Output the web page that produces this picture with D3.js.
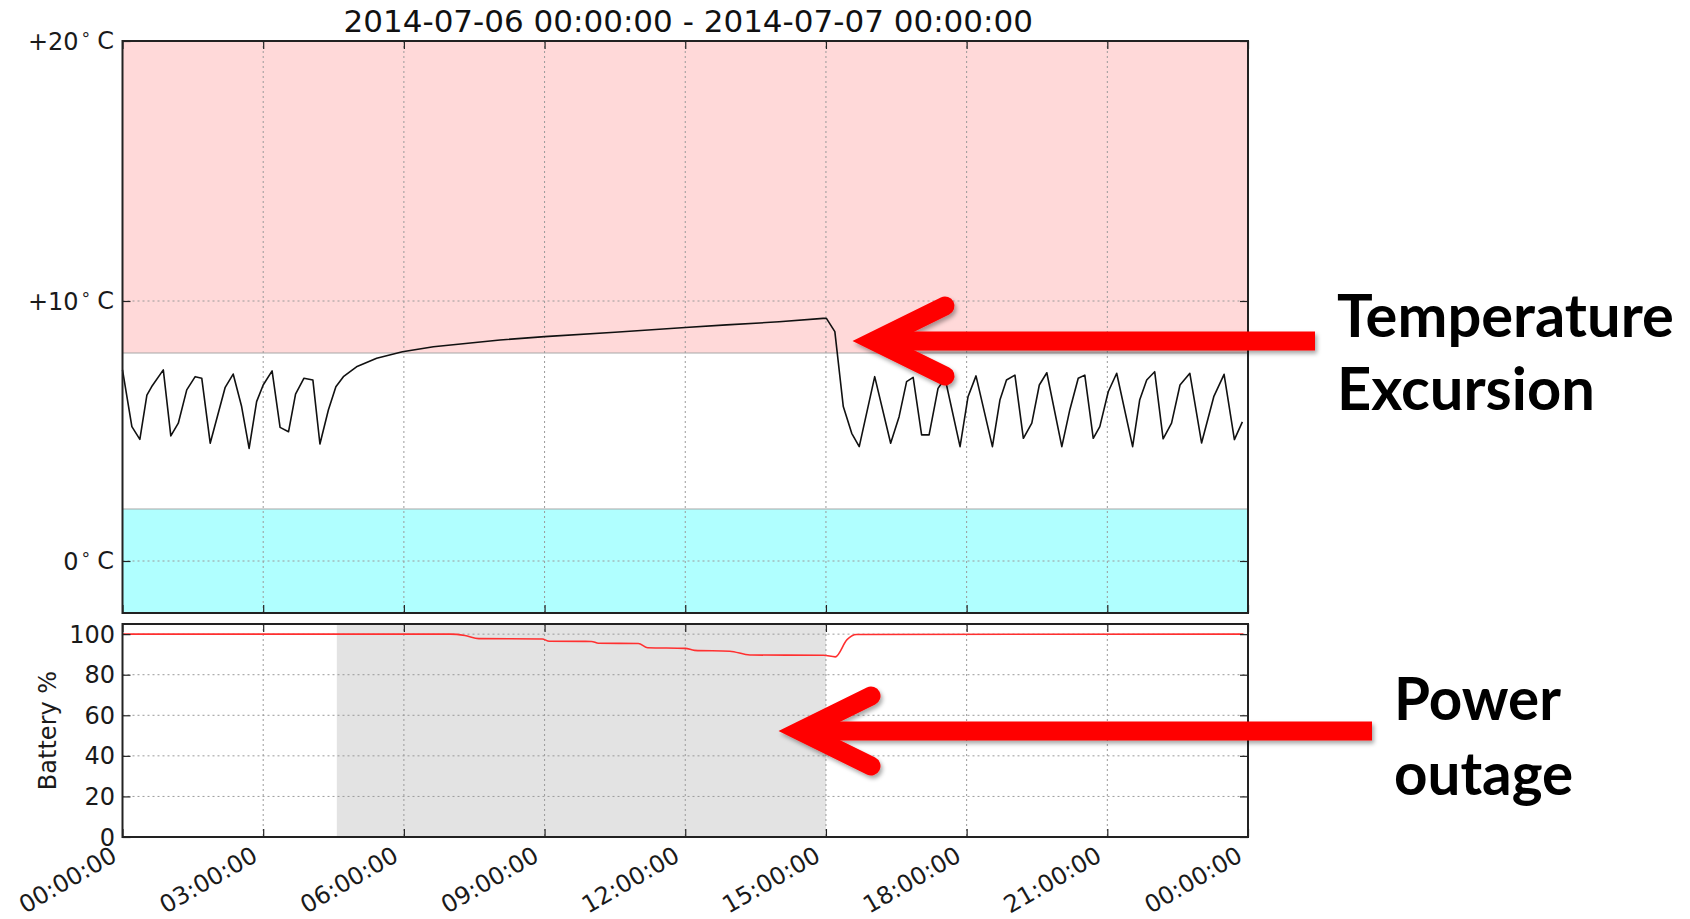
<!DOCTYPE html>
<html lang="en">
<head>
<meta charset="utf-8" />
<title>Temperature excursion and power outage</title>
<style>
  body { margin: 0; background: #fff; }
  svg { display: block; font-family: 'DejaVu Sans', sans-serif; }
  .grid line { stroke: #9a9a9a; stroke-width: 1; stroke-dasharray: 2,3; }
  .tick-label { font-size: 24px; fill: #1a1a1a; }
  .frame { fill: none; stroke: #222; stroke-width: 2; }
  .note { font-family: Lato, 'Open Sans', sans-serif; font-weight: 700; fill: #000; }
</style>
</head>
<body>
<script src="https://d3js.org/d3.v7.min.js"></script>
<script>
// ---- data ----
const title = "2014-07-06 00:00:00 - 2014-07-07 00:00:00";
const xTickHours = [0, 3, 6, 9, 12, 15, 18, 21, 24];
const xTickLabels = ["00:00:00", "03:00:00", "06:00:00", "09:00:00", "12:00:00",
                     "15:00:00", "18:00:00", "21:00:00", "00:00:00"];
const tempTicks = [0, 10, 20];
const tempTickLabels = ["0", "+10", "+20"];
const batteryTicks = [0, 20, 40, 60, 80, 100];

const highLimit = 8;    // pink band above
const lowLimit = 2;     // cyan band below
const outage = [4.57, 15.0];   // grey band in battery panel (hours)

const tempHours = [
  0.00, 0.20, 0.37, 0.52, 0.62, 0.87, 1.03, 1.19, 1.37, 1.55, 1.69, 1.87, 2.19, 2.36,
  2.54, 2.70, 2.86, 3.00, 3.19, 3.36, 3.54, 3.69, 3.87, 4.06, 4.21, 4.39, 4.55, 4.71,
  4.99, 5.42, 5.97, 6.63, 8.05, 9.00, 10.50, 12.00, 12.88, 14.00, 14.94, 15.01, 15.19,
  15.37, 15.55, 15.71, 16.04, 16.38, 16.56, 16.72, 16.86, 17.04, 17.20, 17.39, 17.54,
  17.86, 18.03, 18.20, 18.55, 18.71, 18.85, 19.03, 19.21, 19.39, 19.55, 19.71, 20.03,
  20.20, 20.38, 20.52, 20.70, 20.84, 21.02, 21.20, 21.54, 21.69, 21.84, 22.01, 22.19,
  22.37, 22.55, 22.76, 23.01, 23.27, 23.49, 23.71, 23.88
];
const tempValues = [
  7.35, 5.17, 4.68, 6.38, 6.70, 7.35, 4.81, 5.30, 6.58, 7.09, 7.03, 4.53, 6.68, 7.19,
  5.94, 4.33, 6.13, 6.77, 7.31, 5.14, 4.97, 6.42, 7.03, 6.96, 4.50, 5.81, 6.70, 7.09,
  7.47, 7.80, 8.05, 8.24, 8.50, 8.63, 8.80, 8.98, 9.08, 9.20, 9.33, 9.33, 8.82,
  5.94, 4.91, 4.40, 7.09, 4.53, 5.55, 6.90, 7.06, 4.85, 4.85, 6.64, 7.03,
  4.40, 6.32, 7.12, 4.40, 6.19, 6.96, 7.15, 4.72, 5.30, 6.77, 7.24, 4.40,
  5.81, 7.03, 7.15, 4.72, 5.17, 6.51, 7.22, 4.40, 6.19, 6.96, 7.28, 4.70,
  5.30, 6.77, 7.22, 4.54, 6.32, 7.18, 4.67, 5.35
];

const batteryHours = [0, 7.0, 7.3, 7.6, 8.95, 9.1, 10.0, 10.15, 11.0, 11.2, 12.0, 12.2,
                      12.95, 13.38, 14.95, 15.2, 15.45, 15.65, 23.9];
const batteryValues = [100, 100, 99.3, 97.8, 97.6, 96.5, 96.4, 95.5, 95.4, 93.3, 93.0, 92.0,
                       91.6, 89.7, 89.6, 88.8, 97.3, 99.8, 100];

// ---- layout ----
const W = 1690, H = 919;
const left = 122.5, right = 1248;
const topPanel = { top: 41, bottom: 613 };
const batPanel = { top: 624, bottom: 837 };

const svg = d3.select("body").append("svg").attr("width", W).attr("height", H);

const defs = svg.append("defs");
const shadow = defs.append("filter").attr("id", "shadow")
  .attr("x", "-20%").attr("y", "-50%").attr("width", "140%").attr("height", "200%");
shadow.append("feDropShadow").attr("dx", 2).attr("dy", 3).attr("stdDeviation", 2)
  .attr("flood-color", "#000").attr("flood-opacity", 0.35);

const x = d3.scaleLinear().domain([0, 24]).range([left, right]);
const yT = d3.scaleLinear().domain([-2, 20]).range([topPanel.bottom, topPanel.top]);
const yB = d3.scaleLinear().domain([0, 105]).range([batPanel.bottom, batPanel.top]);

// ---- top panel: bands ----
svg.append("rect")
  .attr("x", x(0)).attr("width", x(24) - x(0))
  .attr("y", yT(20)).attr("height", yT(highLimit) - yT(20))
  .attr("fill", "#ffd9d9");
svg.append("rect")
  .attr("x", x(0)).attr("width", x(24) - x(0))
  .attr("y", yT(lowLimit)).attr("height", yT(-2) - yT(lowLimit))
  .attr("fill", "#b0ffff");
[highLimit, lowLimit].forEach(v => {
  svg.append("line")
    .attr("x1", x(0)).attr("x2", x(24)).attr("y1", yT(v)).attr("y2", yT(v))
    .attr("stroke", "#a8a8a8").attr("stroke-width", 1.2);
});

// grid, top panel
const gT = svg.append("g").attr("class", "grid");
gT.selectAll("line.v").data(xTickHours.slice(1, -1)).join("line")
  .attr("x1", d => x(d)).attr("x2", d => x(d))
  .attr("y1", topPanel.top).attr("y2", topPanel.bottom);
gT.selectAll("line.h").data(tempTicks).join("line")
  .attr("x1", left).attr("x2", right)
  .attr("y1", d => yT(d)).attr("y2", d => yT(d));

// temperature line
const tempData = tempHours.map((h, i) => [h, tempValues[i]]);
svg.append("path").datum(tempData)
  .attr("fill", "none").attr("stroke", "#111").attr("stroke-width", 1.6)
  .attr("stroke-linejoin", "round")
  .attr("d", d3.line().x(d => x(d[0])).y(d => yT(d[1])));

// ---- battery panel ----
svg.append("rect")
  .attr("x", x(outage[0])).attr("width", x(outage[1]) - x(outage[0]))
  .attr("y", batPanel.top).attr("height", batPanel.bottom - batPanel.top)
  .attr("fill", "#e3e3e3");

const gB = svg.append("g").attr("class", "grid");
gB.selectAll("line.v").data(xTickHours.slice(1, -1)).join("line")
  .attr("x1", d => x(d)).attr("x2", d => x(d))
  .attr("y1", batPanel.top).attr("y2", batPanel.bottom);
gB.selectAll("line.h").data(batteryTicks.slice(1)).join("line")
  .attr("x1", left).attr("x2", right)
  .attr("y1", d => yB(d)).attr("y2", d => yB(d));

const batData = batteryHours.map((h, i) => [h, batteryValues[i]]);
svg.append("path").datum(batData)
  .attr("fill", "none").attr("stroke", "#ff3030").attr("stroke-width", 1.6)
  .attr("d", d3.line().curve(d3.curveMonotoneX).x(d => x(d[0])).y(d => yB(d[1])));

// ---- axes (inward ticks on all sides) ----
function frame(p, yScale, yTicks) {
  const h = p.bottom - p.top;
  svg.append("g").attr("transform", `translate(0,${p.bottom})`)
    .call(d3.axisBottom(x).tickValues(xTickHours).tickSize(-8).tickFormat(""))
    .call(g => g.select(".domain").remove());
  svg.append("g").attr("transform", `translate(0,${p.top})`)
    .call(d3.axisTop(x).tickValues(xTickHours).tickSize(-8).tickFormat(""))
    .call(g => g.select(".domain").remove());
  svg.append("g").attr("transform", `translate(${left},0)`)
    .call(d3.axisLeft(yScale).tickValues(yTicks).tickSize(-8).tickFormat(""))
    .call(g => g.select(".domain").remove());
  svg.append("g").attr("transform", `translate(${right},0)`)
    .call(d3.axisRight(yScale).tickValues(yTicks).tickSize(-8).tickFormat(""))
    .call(g => g.select(".domain").remove());
  svg.selectAll(".tick line").attr("stroke", "#222").attr("stroke-width", 1.2);
  svg.append("rect").attr("class", "frame")
    .attr("x", left).attr("y", p.top).attr("width", right - left).attr("height", h);
}
frame(topPanel, yT, tempTicks);
frame(batPanel, yB, batteryTicks);

// temperature tick labels: "+20°C" style
tempTicks.forEach((v, i) => {
  const t = svg.append("text").attr("class", "tick-label")
    .attr("x", 114).attr("y", yT(v)).attr("dy", "0.36em")
    .attr("text-anchor", "end");
  t.append("tspan").text(tempTickLabels[i]);
  t.append("tspan").attr("font-size", "17px").attr("dy", "-0.55em").attr("dx", "2").text("\u2218");
  t.append("tspan").attr("dy", "0.37em").attr("dx", "6").text("C");
});

// battery tick labels
svg.selectAll("text.bat").data(batteryTicks).join("text")
  .attr("class", "tick-label bat")
  .attr("x", 115).attr("y", d => yB(d)).attr("dy", "0.36em")
  .attr("text-anchor", "end").text(d => d);

svg.append("text").attr("class", "tick-label")
  .attr("transform", `translate(56,${(batPanel.top + batPanel.bottom) / 2}) rotate(-90)`)
  .attr("text-anchor", "middle").text("Battery %");

// x tick labels, rotated
svg.selectAll("text.xt").data(xTickHours).join("text")
  .attr("class", "tick-label xt")
  .attr("text-anchor", "end")
  .attr("transform", d => `translate(${x(d) - 4},${batPanel.bottom + 23}) rotate(-30)`)
  .text((d, i) => xTickLabels[i]);

// title
svg.append("text")
  .attr("x", (left + right) / 2 + 3).attr("y", 32)
  .attr("text-anchor", "middle").attr("font-size", "31px").attr("fill", "#111")
  .text(title);

// ---- annotations ----
function arrow(tipX, tipY, armEndX, armDy, tailX) {
  const g = svg.append("g").attr("filter", "url(#shadow)");
  g.append("line")
    .attr("x1", tipX + 14).attr("y1", tipY).attr("x2", tailX).attr("y2", tipY)
    .attr("stroke", "#ff0000").attr("stroke-width", 19);
  g.append("path")
    .attr("d", `M${armEndX},${tipY - armDy} L${tipX},${tipY} L${armEndX},${tipY + armDy}`)
    .attr("fill", "none").attr("stroke", "#ff0000").attr("stroke-width", 19)
    .attr("stroke-linecap", "round").attr("stroke-linejoin", "miter");
}
arrow(874, 341, 945, 35, 1315);
arrow(800, 731, 871, 35, 1372);

function note(lines, xPos, baselines, targetWidth) {
  const t = svg.append("text").attr("class", "note").attr("font-size", "60px");
  lines.forEach((s, i) => {
    t.append("tspan").attr("x", xPos).attr("y", baselines[i]).text(s);
  });
  const first = t.select("tspan").node().getComputedTextLength();
  t.attr("font-size", (60 * targetWidth / first) + "px");
}
note(["Temperature", "Excursion"], 1337, [337, 410], 337);
note(["Power", "outage"], 1394, [720, 795], 167);
</script>
</body>
</html>
